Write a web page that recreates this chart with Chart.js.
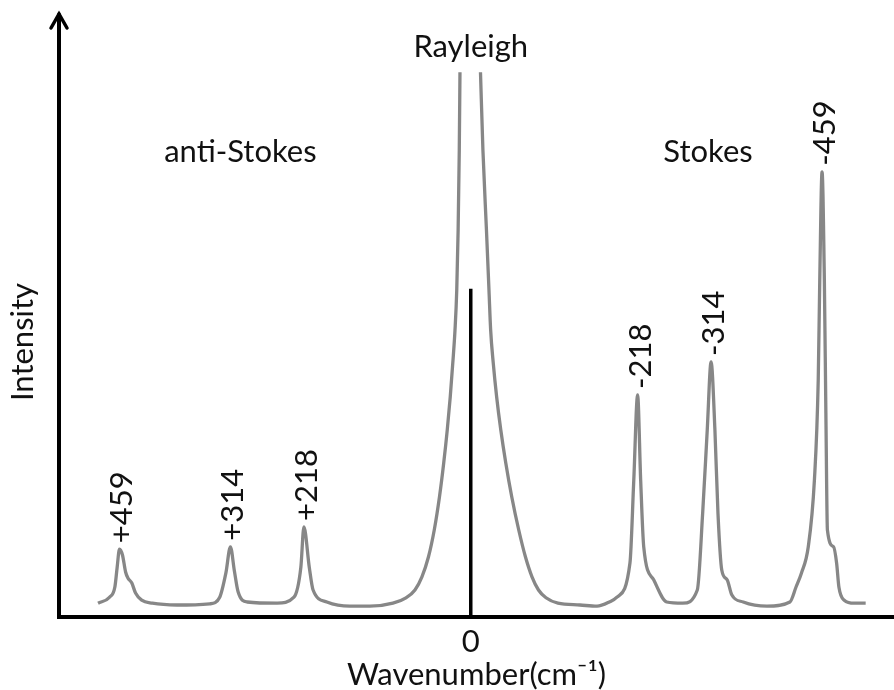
<!DOCTYPE html>
<html>
<head>
<meta charset="utf-8">
<title>Raman spectrum</title>
<script src="https://cdn.jsdelivr.net/npm/chart.js@4.4.1/dist/chart.umd.min.js"></script>
<style>
  html, body { margin: 0; padding: 0; background: #fff; }
  #wrap { width: 894px; height: 690px; }
</style>
</head>
<body>
<div id="wrap"><canvas id="spectrum"></canvas></div>
<script>
// Raman shift in cm-1: anti-Stokes side positive (left), Stokes side negative (right)
const shifts = [
  487, 472, 465, 462, 459, 455, 451, 448, 443, 438, 430, 416, 384,
  341, 328, 320, 314, 309, 304, 292, 253,
  231, 222, 218, 211, 206, 188, 158,
  131.7, 101.7, 84.7, 72.9, 63.8, 55.3, 47.7, 40.9, 35.3, 30.7, 26.8, 23.5, 20.6, 18.3, 16.5, 15.0, 14.1,
  0,
  -12.7, -15.9, -20.5, -23.8, -26.0, -29.4, -33.8, -39.2, -45.7, -53.6, -62.7, -71.5, -80.0, -88.5, -98.3, -113.9, -142.7, -165,
  -181, -191, -208, -213, -218, -222, -226, -239, -256, -277,
  -296, -303, -309, -314, -319, -323, -328, -335, -341, -356, -387, -417,
  -425, -432, -441, -449, -454, -456, -459, -462, -464, -466, -474, -478, -481, -488, -501, -516
];
// relative intensity; null where the Rayleigh line runs off the top
const intensity = [
  2.3, 3.3, 5.0, 8.3, 11.3, 10.3, 7.5, 6.5, 5.7, 4.0, 2.8, 2.3, 2.0,
  2.2, 3.3, 7.3, 11.7, 7.8, 4.2, 2.5, 2.3,
  3.3, 8.3, 15.0, 8.3, 4.5, 2.5, 1.8,
  1.8, 2.3, 3.2, 4.5, 6.7, 10.0, 14.5, 20.0, 25.7, 31.2, 36.7, 42.3, 47.8, 54.5, 64.5, 77.8, 90.8,
  null,
  90.8, 77.8, 64.5, 54.5, 47.8, 42.3, 36.7, 31.2, 25.7, 20.0, 14.5, 10.0, 6.7, 4.5, 3.2, 2.3, 2.0, 1.8,
  2.5, 3.3, 9.0, 22.8, 37.0, 22.8, 11.7, 6.2, 2.5, 2.3,
  4.5, 17.3, 31.2, 42.5, 31.2, 17.3, 7.8, 6.2, 3.7, 2.5, 1.8, 2.5,
  5.0, 7.3, 11.7, 22.8, 39.5, 56.2, 74.2, 56.2, 34.0, 14.5, 11.7, 9.0, 5.0, 2.8, 2.3, 2.3
];

// labelled Raman lines
const peakShifts = [459, 314, 218, -218, -314, -459];
const peakLabels = ['+459', '+314', '+218', '-218', '-314', '-459'];

// excitation marker at zero shift
const laserShift = 0;
const laserHeight = 54.7;

const regionNames = ['anti-Stokes', 'Rayleigh', 'Stokes'];
const regionAnchors = [[301, 75.8], [0, 93.3], [-310, 75.8]];

const FONT = 'Lato, "Open Sans", sans-serif';
const FONT_SIZE = 31;
const TEXT_COLOR = '#111';

Chart.defaults.font.family = FONT;
Chart.defaults.color = TEXT_COLOR;

const spectrumPoints = shifts.map((s, i) => ({ x: s, y: intensity[i] }));

// arrowhead and title on the intensity axis plus the peak / region captions
const annotations = {
    id: 'annotations',
    afterDraw(chart) {
        const { ctx, chartArea, scales: { x, y } } = chart;
        ctx.save();

        // arrow on top of the y axis
        const ax = chartArea.left;
        ctx.strokeStyle = '#000';
        ctx.lineWidth = 3.5;
        ctx.lineCap = 'round';
        ctx.lineJoin = 'miter';
        ctx.beginPath();
        ctx.moveTo(ax, chartArea.top + 2);
        ctx.lineTo(ax, chartArea.top - 3);
        ctx.stroke();
        ctx.beginPath();
        ctx.moveTo(ax - 8, chartArea.top + 11);
        ctx.lineTo(ax, chartArea.top - 3);
        ctx.lineTo(ax + 8, chartArea.top + 11);
        ctx.stroke();

        ctx.fillStyle = TEXT_COLOR;
        ctx.font = FONT_SIZE + 'px ' + FONT;

        // y axis title, sitting a little below the middle of the axis
        ctx.save();
        ctx.translate(chartArea.left - 26, chartArea.bottom - 275);
        ctx.rotate(-Math.PI / 2);
        ctx.textAlign = 'center';
        ctx.textBaseline = 'alphabetic';
        ctx.fillText('Intensity', 0, 0);
        ctx.restore();

        // region names
        ctx.textAlign = 'center';
        ctx.textBaseline = 'alphabetic';
        regionNames.forEach((name, i) => {
            const [s, v] = regionAnchors[i];
            ctx.fillText(name, x.getPixelForValue(s), y.getPixelForValue(v));
        });

        // rotated shift labels above each peak
        ctx.textAlign = 'left';
        ctx.textBaseline = 'middle';
        peakShifts.forEach((s, i) => {
            const h = intensity[shifts.indexOf(s)];
            const px = x.getPixelForValue(s) + 3;
            const py = y.getPixelForValue(h) - 6;
            ctx.save();
            ctx.translate(px, py);
            ctx.rotate(-Math.PI / 2);
            ctx.fillText(peakLabels[i], 0, 0);
            ctx.restore();
        });

        ctx.restore();
    }
};

new Chart(document.getElementById('spectrum'), {
    type: 'line',
    data: {
        datasets: [
            {
                data: spectrumPoints,
                borderColor: '#878787',
                borderWidth: 3.3,
                pointRadius: 0,
                cubicInterpolationMode: 'monotone',
                spanGaps: false,
                fill: false
            },
            {
                data: [{ x: laserShift, y: 0 }, { x: laserShift, y: laserHeight }],
                borderColor: '#000',
                borderWidth: 3.5,
                pointRadius: 0,
                fill: false
            }
        ]
    },
    options: {
        responsive: true,
        maintainAspectRatio: false,
        animation: false,
        layout: { padding: { left: 59, top: 17, right: 0, bottom: 0 } },
        plugins: {
            legend: { display: false },
            tooltip: { enabled: false }
        },
        scales: {
            x: {
                type: 'linear',
                reverse: true,
                min: -553,
                max: 538,
                grid: { display: false, drawTicks: false },
                border: { display: true, color: '#000', width: 4 },
                afterBuildTicks: scale => { scale.ticks = [{ value: 0 }]; },
                ticks: {
                    color: TEXT_COLOR,
                    font: { size: FONT_SIZE, lineHeight: 1.0 },
                    padding: 9,
                    maxRotation: 0,
                    autoSkip: false
                },
                title: {
                    display: true,
                    text: 'Wavenumber(cm⁻¹)',
                    color: TEXT_COLOR,
                    font: { size: FONT_SIZE, lineHeight: 1.0 },
                    padding: { top: -7, bottom: 0 }
                }
            },
            y: {
                min: 0,
                max: 100,
                grid: { display: false, drawTicks: false },
                border: { display: true, color: '#000', width: 4 },
                ticks: { display: false }
            }
        }
    },
    plugins: [annotations]
});
</script>
</body>
</html>
